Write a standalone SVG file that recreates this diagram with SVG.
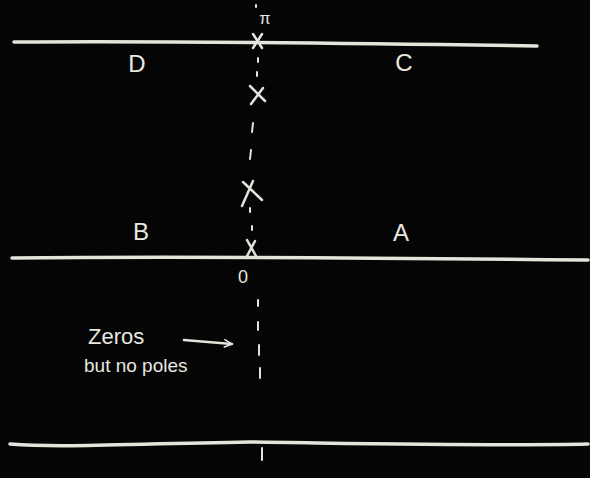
<svg xmlns="http://www.w3.org/2000/svg" width="590" height="478" viewBox="0 0 590 478">
<style>
.chalk{fill:none;stroke:#e4e4dc;stroke-linecap:round;stroke-linejoin:round}
.line{stroke-width:3.5}
.mark{stroke-width:2.5}
.dash{stroke-width:2}
.t{fill:#e8e8e0;font-family:"Liberation Sans",Arial,sans-serif}
</style>
<defs>
<marker id="ah" viewBox="0 0 10 10" refX="9" refY="5" markerWidth="10" markerHeight="10" markerUnits="userSpaceOnUse" orient="auto">
<path d="M1,1 L9,5 L1,9" fill="none" stroke="#e4e4dc" stroke-width="1.6"/>
</marker>
</defs>
<rect width="590" height="478" fill="#050505"/>
<g id="lines">
<path class="chalk line" d="M14,42 C150,41 350,43 537,46"/>
<path class="chalk line" d="M12,258 C200,256 400,258 588,260"/>
<path class="chalk line" d="M10,444 C60,448 120,444 250,442 C400,444 500,446 588,444"/>
</g>
<g id="axis" class="chalk dash">
<path d="M256,5 L256,7"/>
<path d="M258,58 L258,62"/>
<path d="M257,72 L257,76"/>
<path d="M253,123 L252,132"/>
<path d="M251,150 L250,159"/>
<path d="M250,208 L250,212"/>
<path d="M252,226 L252,230"/>
<path d="M258,300 L258,306"/>
<path d="M258,322 L258,330"/>
<path d="M259,345 L259,355"/>
<path d="M260,368 L260,378"/>
<path d="M262,448 L262,460"/>
</g>
<g id="marks" class="chalk mark">
<path d="M253,34 L262,48 M262,34 L253,48"/>
<path d="M250,86 L265,101 M263,88 L251,104"/>
<path d="M243,182 L262,200 M253,181 L242,206"/>
<path d="M247,240 L256,256 M255,241 L246,258"/>
</g>
<g id="labels">
<text class="t" x="265" y="24" font-size="16" text-anchor="middle">π</text>
<text class="t" x="137" y="72" font-size="24" text-anchor="middle">D</text>
<text class="t" x="404" y="71" font-size="24" text-anchor="middle">C</text>
<text class="t" x="141" y="240" font-size="24" text-anchor="middle">B</text>
<text class="t" x="401" y="241" font-size="24" text-anchor="middle">A</text>
<text class="t" x="243" y="283" font-size="18" text-anchor="middle">0</text>
</g>
<g id="note">
<text class="t" x="88" y="344" font-size="22">Zeros</text>
<text class="t" x="84" y="372" font-size="19">but no poles</text>
<path class="chalk mark" d="M184,340 L232,344" marker-end="url(#ah)"/>
</g>
</svg>
